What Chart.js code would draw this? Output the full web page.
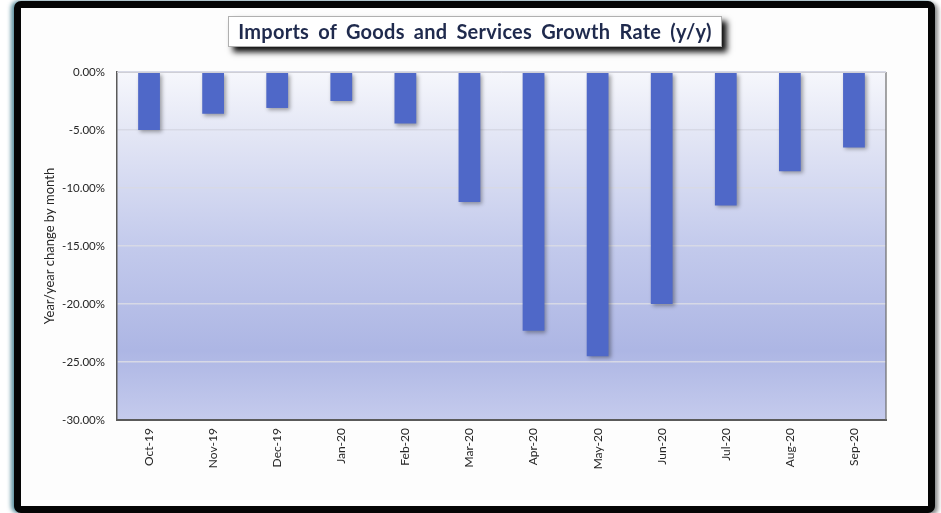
<!DOCTYPE html>
<html>
<head>
<meta charset="utf-8">
<script src="https://cdn.jsdelivr.net/npm/chart.js@4.4.0/dist/chart.umd.min.js"></script>
<style>
  html, body { margin: 0; padding: 0; background: #ffffff; overflow: hidden; }
  #wrap { position: relative; width: 941px; height: 513px; overflow: hidden; }
  #card {
    position: absolute; left: 14px; top: 1px; width: 907px; height: 498px;
    border: 7px solid #050505; border-radius: 7px; background: #fdfdfd;
    box-shadow: -3px 0 4px rgba(40,110,130,0.75), 3px 2px 4px rgba(60,60,60,0.6);
  }
  #title {
    position: absolute; left: 228px; top: 16px; width: 494px; height: 31px;
    background: #ffffff; border: 1px solid #b0b0b0; box-sizing: border-box;
    box-shadow: 5px 5px 6px rgba(0,0,0,0.95);
    font-family: Lato, sans-serif; font-weight: bold; font-size: 20px; color: #1f2a4d;
    text-align: center; line-height: 29px; z-index: 3;
    letter-spacing: 0.25px; word-spacing: 4px; white-space: nowrap;
  }
  #cv { position: absolute; left: 0; top: 0; z-index: 2; }
</style>
</head>
<body>
<div id="wrap">
  <div id="card"></div>
  <div id="title">Imports of Goods and Services Growth Rate (y/y)</div>
  <canvas id="cv" width="941" height="513"></canvas>
</div>
<script>
const categories = ['Oct-19','Nov-19','Dec-19','Jan-20','Feb-20','Mar-20','Apr-20','May-20','Jun-20','Jul-20','Aug-20','Sep-20'];
const growthValues = [-5.0, -3.6, -3.1, -2.5, -4.45, -11.2, -22.3, -24.5, -20.0, -11.5, -8.55, -6.5];
const yTickValues = [0, -5, -10, -15, -20, -25, -30];
const yAxisTitle = 'Year/year change by month';

const plotBg = {
  id: 'plotBg',
  beforeDraw(chart) {
    const {ctx, chartArea: a} = chart;
    const g = ctx.createLinearGradient(0, a.top, 0, a.bottom);
    g.addColorStop(0, '#f6f7fc');
    g.addColorStop(0.18, '#e3e6f5');
    g.addColorStop(0.5, '#c3caec');
    g.addColorStop(0.8, '#adb6e4');
    g.addColorStop(1, '#c5cbed');
    ctx.save();
    ctx.fillStyle = g;
    ctx.fillRect(a.left, a.top, a.right - a.left, a.bottom - a.top);
    ctx.restore();
  },
  beforeDatasetDraw(chart) {
    const ctx = chart.ctx;
    ctx.save();
    ctx.shadowColor = 'rgba(0,0,0,0.35)';
    ctx.shadowBlur = 4;
    ctx.shadowOffsetX = 2;
    ctx.shadowOffsetY = 2;
  },
  afterDatasetDraw(chart) {
    chart.ctx.restore();
  },
  afterDraw(chart) {
    const {ctx, chartArea: a} = chart;
    ctx.save();
    ctx.strokeStyle = '#6b6b6b';
    ctx.lineWidth = 1.2;
    ctx.beginPath();
    ctx.moveTo(a.right, a.top);
    ctx.lineTo(a.right, a.bottom);
    ctx.stroke();
    ctx.strokeStyle = '#cfcfd6';
    ctx.lineWidth = 1;
    ctx.beginPath();
    ctx.moveTo(a.left, a.top + 0.5);
    ctx.lineTo(a.right, a.top + 0.5);
    ctx.stroke();
    ctx.restore();
  }
};

new Chart(document.getElementById('cv'), {
  type: 'bar',
  data: {
    labels: categories,
    datasets: [{
      data: growthValues,
      backgroundColor: '#4f68c8',
      borderWidth: 0,
      barPercentage: 0.68,
      categoryPercentage: 0.5
    }]
  },
  options: {
    responsive: false,
    animation: false,
    devicePixelRatio: 1,
    layout: { padding: { top: 72, right: 55, left: 38, bottom: 0 } },
    plugins: { legend: { display: false }, tooltip: { enabled: false }, title: { display: false } },
    scales: {
      x: {
        grid: { display: false, drawTicks: false },
        border: { color: '#5a5a5a', width: 2 },
        ticks: {
          minRotation: 90, maxRotation: 90, padding: 8, autoSkip: false,
          color: '#262626', font: { family: 'Lato, sans-serif', size: 12 }
        },
        afterFit(scale) { scale.height = 93; }
      },
      y: {
        min: -30, max: 0,
        afterBuildTicks(scale) { scale.ticks = yTickValues.map(v => ({ value: v })); },
        grid: { color: '#d7d9e6', lineWidth: 1.5, drawTicks: false },
        border: { color: '#5a5a5a', width: 1.5 },
        ticks: {
          padding: 12, color: '#262626',
          font: { family: 'Lato, sans-serif', size: 11.5 },
          callback: (v) => Number(v).toFixed(2) + '%'
        },
        title: {
          display: true, text: yAxisTitle, color: '#262626',
          font: { family: 'Lato, sans-serif', size: 13 }, padding: 4
        },
        afterFit(scale) { scale.width = 79; }
      }
    }
  },
  plugins: [plotBg]
});
</script>
</body>
</html>
